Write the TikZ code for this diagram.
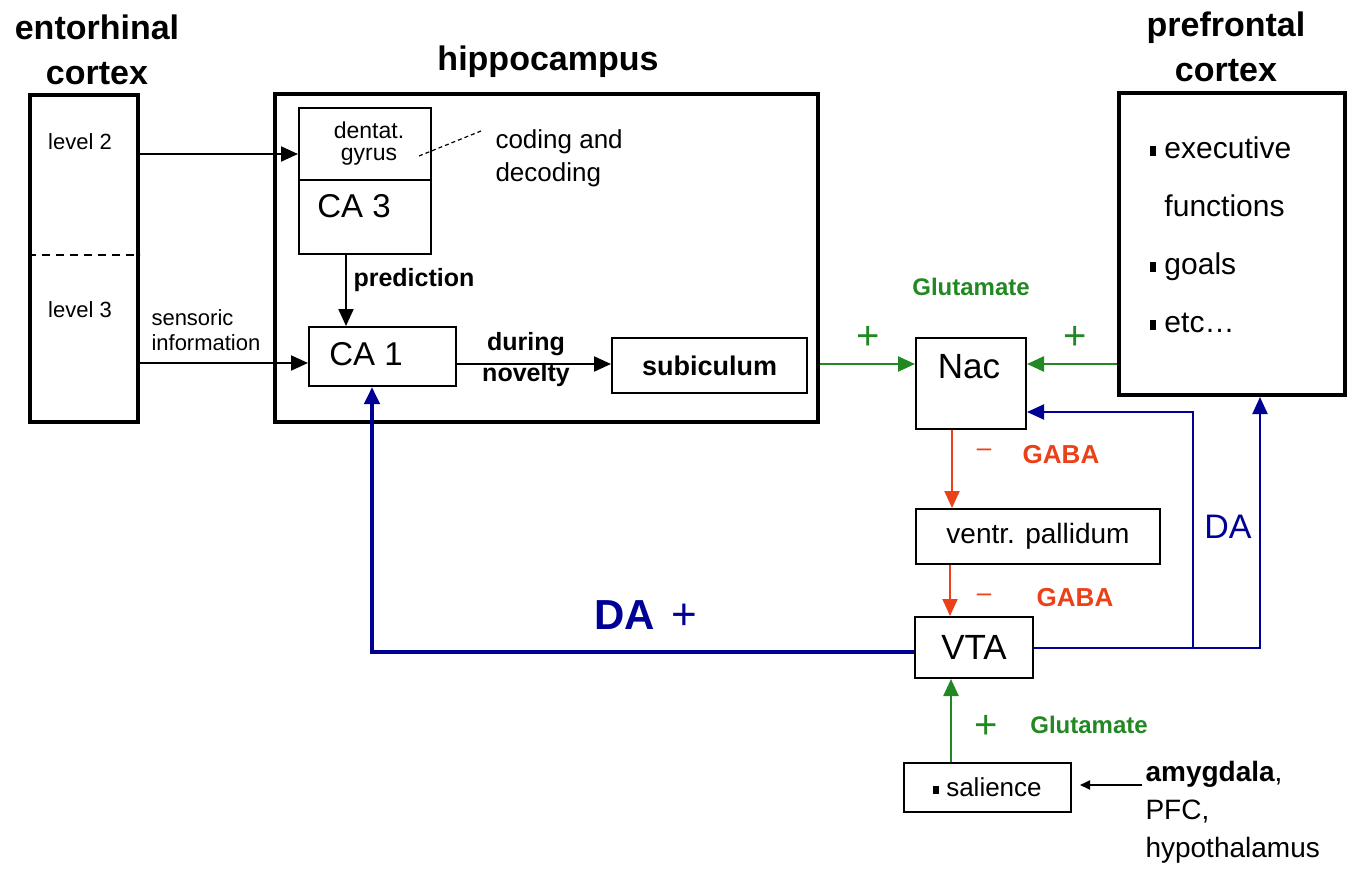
\documentclass[tikz,border=0pt]{standalone}
\usepackage{fontspec}
\setmainfont{Liberation Sans}
\usetikzlibrary{arrows.meta,positioning}
\definecolor{dablue}{RGB}{0,0,150}
\definecolor{glugreen}{RGB}{34,136,34}
\definecolor{gabared}{RGB}{236,64,24}
\newcommand{\pxfont}[2]{\fontsize{#1}{#2}\selectfont}
\newcommand{\sqbul}{\rule[0.1em]{0.22em}{0.33em}}
\tikzset{>={Triangle[length=17pt,width=15pt]}}
\tikzset{
  region/.style={draw, line width=4pt, inner sep=0pt},
  cell/.style={draw, line width=2pt, inner sep=0pt},
  title/.style={font=\pxfont{34}{45}\bfseries, align=center},
  small/.style={font=\pxfont{22}{25}},
  boldlabel/.style={font=\pxfont{25}{31}\bfseries},
  blk/.style={line width=2pt},
  glu/.style={line width=2.5pt, draw=glugreen},
  gaba/.style={line width=2pt, draw=gabared},
  dathick/.style={line width=4pt, draw=dablue},
  dathin/.style={line width=2pt, draw=dablue},
  plus/.style={text=glugreen, font=\pxfont{40}{40}},
  glulabel/.style={text=glugreen, font=\pxfont{24}{24}\bfseries},
  minus/.style={text=gabared, font=\pxfont{26}{26}},
  gabalabel/.style={text=gabared, font=\pxfont{26}{26}\bfseries}
}

\begin{document}
\begin{tikzpicture}[x=1pt,y=-1pt]
    \useasboundingbox (0,0) rectangle (1363,869);
    % big regions
    \node[region, minimum width=108pt, minimum height=327pt] (ent) at (84,258.5) {};
    \node[region, minimum width=543pt, minimum height=328pt] (hip) at (546.5,258) {};
    \node[region, minimum width=226pt, minimum height=302pt] (pfc) at (1232,244) {};
    \node[title] (entname) at (97,50) {entorhinal\\cortex};
    \node[title] (hipname) at (548,62) {hippocampus};
    \node[title] (pfcname) at (1226,47) {prefrontal\\cortex};
    \draw[line width=2pt, dash pattern=on 8pt off 6pt] (ent.west |- 0,255) -- (ent.east |- 0,255);
    \node[small] (lvltwo) at (80,142) {level 2};
    \node[small] (lvlthree) at (80,310) {level 3};
    \node[small, anchor=west, align=left] (sens) at (148,330) {sensoric\\information};
    % hippocampus cells
    \node[cell, minimum width=132pt, minimum height=72pt] (dg) at (365,144) {};
    \node[cell, minimum width=132pt, minimum height=74pt] (ca3) at (365,217) {};
    \node[cell, minimum width=147pt, minimum height=59pt] (ca1) at (382.5,356.5) {};
    \node[cell, minimum width=195pt, minimum height=55pt, font=\pxfont{27}{27}\bfseries] (sub) at (709.5,365.5) {subiculum};
    \node[font=\pxfont{23}{22}, align=center] (dgname) at (369,144) {dentat.\\gyrus};
    \node[font=\pxfont{33}{33}] (ca3name) at (354,206) {CA 3};
    \node[font=\pxfont{33}{33}] (ca1name) at (366,354) {CA 1};
    \node[font=\pxfont{26}{33}, anchor=west, align=left] (coding) at (492,158) {coding and\\decoding};
    \node[boldlabel, anchor=west] (pred) at (350,280) {prediction};
    \node[boldlabel, align=center] (novel) at (526,360) {during\\novelty};
    \coordinate (dgtip) at (419,156);
    \coordinate (codetip) at (481,131);
    \draw[line width=1.2pt, dash pattern=on 4pt off 3pt] (dgtip) -- (codetip);
    % basal ganglia loop
    \node[cell, minimum width=110pt, minimum height=91pt] (nac) at (971,383.5) {};
    \node[font=\pxfont{35}{35}] (nacname) at (969,367) {Nac};
    \node[cell, minimum width=244pt, minimum height=55pt, font=\pxfont{28}{28}] (vp) at (1038,536.5) {ventr. pallidum};
    \node[cell, minimum width=118pt, minimum height=61pt, font=\pxfont{35}{35}] (vta) at (974,647.5) {VTA};
    \node[cell, minimum width=167pt, minimum height=49pt, font=\pxfont{26}{26}] (sal) at (987.5,787.5) {\sqbul\ salience};
    \node[font=\pxfont{30}{58}, anchor=west, align=left] (pfclist) at (1146,235) {\sqbul\ executive\\\phantom{\sqbul\ }functions\\\sqbul\ goals\\\sqbul\ etc\ldots};
    \node[font=\pxfont{28}{38}, anchor=west, align=left] (sources) at (1142,812) {\textbf{amygdala},\\PFC,\\hypothalamus};
    % black connectors
    \draw[blk,->] (ent.east |- 0,154) -- (dg.west |- 0,154);
    \draw[blk,->] (ent.east |- 0,363) -- (ca1.west |- 0,363);
    \draw[blk,->] (ca3.south -| 346,0) -- (ca1.north -| 346,0);
    \draw[blk,->] (ca1.east |- 0,364) -- (sub.west |- 0,364);
    \coordinate (salin) at ([xshift=8pt]sal.east);
    \draw[blk,-{Triangle[length=10pt,width=9pt]}] (sources.west |- 0,785) -- (salin |- 0,785);
    % glutamate and GABA
    \draw[glu,->] (hip.east |- 0,364) -- (nac.west |- 0,364);
    \draw[glu,->] (pfc.west |- 0,364) -- (nac.east |- 0,364);
    \draw[glu,->] (sal.north -| 951,0) -- (vta.south -| 951,0);
    \draw[gaba,->] (nac.south -| 952,0) -- (vp.north -| 952,0);
    \draw[gaba,->] (vp.south -| 950,0) -- (vta.north -| 950,0);
    \node[plus] (plusa) at (868,338) {+};
    \node[plus] (plusb) at (1075,338) {+};
    \node[plus] (plusc) at (986,727) {+};
    \node[glulabel] (glua) at (971,287) {Glutamate};
    \node[glulabel] (glub) at (1089,725) {Glutamate};
    \node[minus] (minusa) at (984,453) {–};
    \node[gabalabel] (gabaa) at (1061,455) {GABA};
    \node[minus] (minusb) at (984,598) {–};
    \node[gabalabel] (gabab) at (1075,598) {GABA};
    % dopamine
    \draw[dathick,->] (vta.west |- 0,652) -| (ca1.south -| 372,0);
    \coordinate (dasplit) at (1193,648);
    \draw[dathin,->] (vta.east |- 0,648) -| (pfc.south -| 1260,0);
    \draw[dathin,->] (dasplit) |- (nac.east |- 0,412);
    \node[text=dablue, font=\pxfont{34}{34}] (daright) at (1228,527) {DA};
    \node[text=dablue, font=\pxfont{42}{42}\bfseries] (daleft) at (625,615) {DA};
    \node[text=dablue, font=\pxfont{44}{44}] (daplus) at (684,617) {+};
\end{tikzpicture}
\end{document}
